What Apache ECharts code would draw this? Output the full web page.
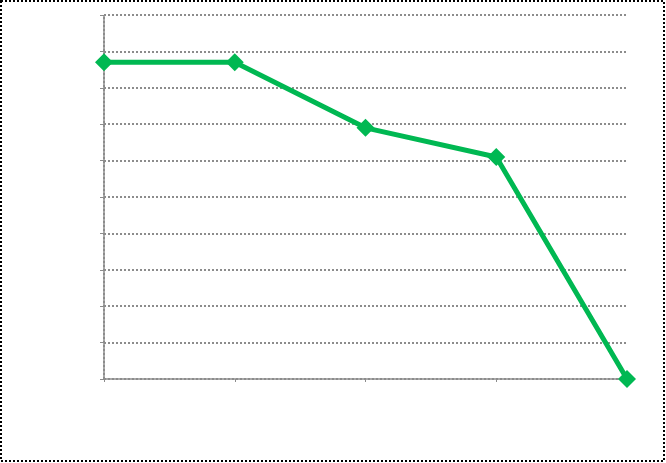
<!DOCTYPE html>
<html><head><meta charset="utf-8">
<script src="https://cdn.jsdelivr.net/npm/echarts@6/dist/echarts.min.js"></script>
<style>html,body{margin:0;padding:0;background:#fff;}#c{width:666px;height:463px;}</style>
</head><body><div id="c"></div>
<script>
const categories = ['1', '2', '3', '4', '5'];
const values = [8.7, 8.7, 6.9, 6.1, 0];
const yMin = 0, yMax = 10, yInterval = 1;

const chart = echarts.init(document.getElementById('c'), null, {renderer: 'canvas'});
chart.setOption({
  animation: false,
  backgroundColor: '#fff',
  grid: {left: 104, right: 39, top: 15, bottom: 84, containLabel: false},
  xAxis: {
    type: 'category', data: categories, boundaryGap: false,
    axisLine: {lineStyle: {color: '#8c8c8c', width: 2, type: [2, 2]}},
    axisTick: {show: true, length: 3, lineStyle: {color: '#8c8c8c'}},
    axisLabel: {show: false},
    splitLine: {show: false}
  },
  yAxis: {
    type: 'value', min: yMin, max: yMax, interval: yInterval,
    axisLine: {show: true, lineStyle: {color: '#8c8c8c', width: 2, type: [2, 2]}},
    axisTick: {show: true, length: 4, lineStyle: {color: '#8c8c8c'}},
    axisLabel: {show: false},
    splitLine: {show: true, lineStyle: {color: '#8c8c8c', width: 2, type: [2, 2]}}
  },
  series: [{
    type: 'line', data: values,
    symbol: 'diamond', symbolSize: 18,
    itemStyle: {color: '#00b852'},
    lineStyle: {color: '#00b852', width: 5}
  }],
  graphic: [{
    type: 'rect', shape: {x: 1, y: 1, width: 663, height: 460},
    style: {fill: 'none', stroke: '#000', lineWidth: 2, lineDash: [2, 2]},
    silent: true
  }]
});
</script></body></html>
